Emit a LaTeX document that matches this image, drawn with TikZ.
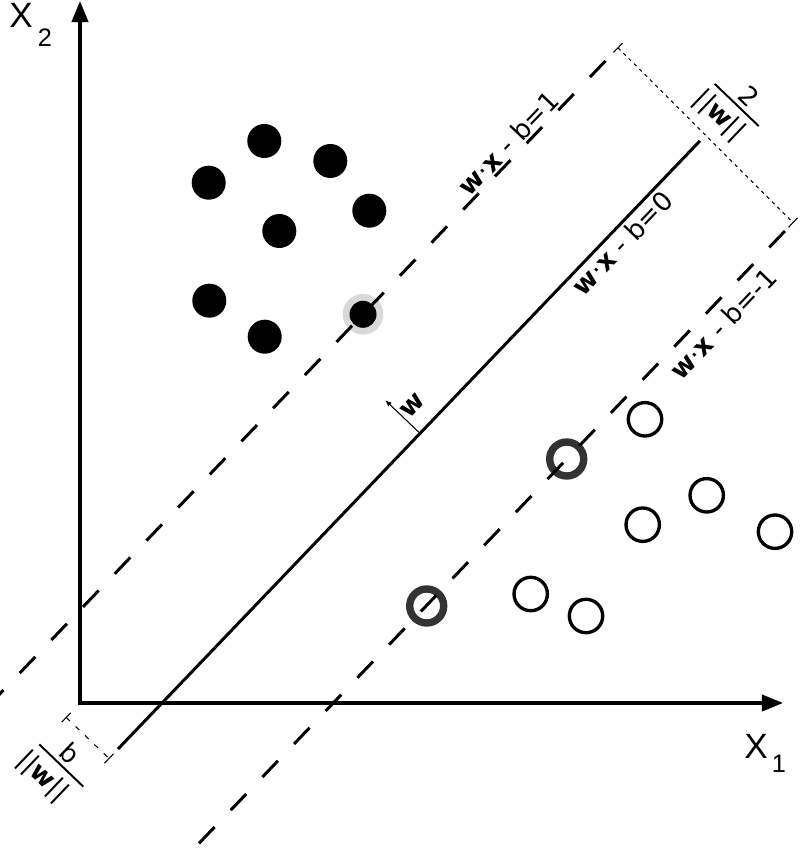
\documentclass[tikz,border=0pt]{standalone}
\usepackage{fontspec}
\setmainfont{DejaVu Sans}
\newfontfamily\axisfont{Liberation Sans}
\usetikzlibrary{arrows.meta}
\begin{document}
\begin{tikzpicture}[x=0.01cm,y=-0.01cm,
  axisline/.style={line width=1pt, line join=miter, {Triangle[length=6pt,width=4.6pt]}-{Triangle[length=6pt,width=4.6pt]}},
  hyperline/.style={line width=0.85pt},
  marginline/.style={line width=0.85pt, dash pattern=on 2.25mm off 2.33mm},
  distline/.style={line width=0.3pt, dash pattern=on 0.35mm off 0.4mm},
  distlineb/.style={line width=0.3pt, dash pattern=on 0.5mm off 0.8mm},
  tickline/.style={line width=0.3pt},
  fracbar/.style={line width=0.55pt},
  normalarrow/.style={line width=0.3pt, -{Latex[length=1.8pt,width=1.5pt]}},
  posdot/.style={circle, fill=black, minimum size=3.4mm, inner sep=0pt},
  suppos/.style={circle, fill=black, minimum size=2.7mm, inner sep=0pt},
  halo/.style={circle, fill=black!15, minimum size=4.06mm, inner sep=0pt},
  negdot/.style={circle, draw=black, line width=0.95pt, minimum size=3.34mm, inner sep=0pt},
  supneg/.style={circle, draw=black!80, line width=2.1pt, minimum size=3.4mm, inner sep=0pt},
  eqlabel/.style={font=\fontsize{7.5}{9}\selectfont, inner sep=0pt, rotate=46.26},
  fraclabel/.style={font=\fontsize{7.4}{9}\selectfont, inner sep=0pt, rotate=-43.74},
  axislabel/.style={font=\axisfont\fontsize{10}{12}\selectfont, inner sep=0pt},
  axissub/.style={font=\axisfont\fontsize{7.2}{9}\selectfont, inner sep=0pt},
]
\useasboundingbox (0,0) rectangle (800,862);

% halo behind the positive support vector
\node[halo] (h1) at (363,314.3) {};

% negative samples
\node[negdot] (n1) at (645,419.3) {};
\node[negdot] (n2) at (706.7,495.3) {};
\node[negdot] (n3) at (642.7,524.7) {};
\node[negdot] (n4) at (775,531.7) {};
\node[negdot] (n5) at (530.7,594) {};
\node[negdot] (n6) at (586,616) {};
\node[supneg] (sn1) at (566.7,459) {};
\node[supneg] (sn2) at (426.7,606) {};

% axes
\coordinate (O) at (80,703);
\coordinate (Ytip) at (80,1);
\coordinate (Xtip) at (783,703);
\draw[axisline] (Ytip) -- (O) -- (Xtip);

% hyperplanes
\coordinate (S1) at (118,749.0);
\coordinate (S2) at (700,140.8);
\coordinate (U1) at (-12,706.2);
\coordinate (U2) at (618,47.8);
\coordinate (L1) at (199,843.3);
\coordinate (L2) at (793,222.6);
\draw[hyperline] (S1) -- (S2);
\draw[marginline] (U1) -- (U2);
\draw[marginline] (L1) -- (L2);

% margin width
\coordinate (U2a) at (613.5,52.5);
\coordinate (U2b) at (622.5,43.1);
\coordinate (L2a) at (788.5,227.3);
\coordinate (L2b) at (797.5,217.9);
\draw[distline] (U2) -- (L2);
\draw[tickline] (U2a) -- (U2b);
\draw[tickline] (L2a) -- (L2b);

% offset b/||w||
\coordinate (A) at (66.2,717.45);
\coordinate (B) at (109,758.45);
\coordinate (Aa) at (61.7,722.15);
\coordinate (Ab) at (70.7,712.75);
\coordinate (Ba) at (104.5,763.15);
\coordinate (Bb) at (113.5,753.75);
\draw[distlineb] (A) -- (B);
\draw[tickline] (Aa) -- (Ab);
\draw[tickline] (Ba) -- (Bb);

% normal vector
\coordinate (W0) at (420,433.4);
\coordinate (W1) at (385.3,400.2);
\draw[normalarrow] (W0) -- (W1);
\node[eqlabel] (wl) at (413,406) {\textbf{w}};

% positive samples
\node[posdot] (p1) at (264.3,141) {};
\node[posdot] (p2) at (330.3,161) {};
\node[posdot] (p3) at (208.7,182.7) {};
\node[posdot] (p4) at (369.3,210.7) {};
\node[posdot] (p5) at (279.3,231) {};
\node[posdot] (p6) at (209.3,300.7) {};
\node[posdot] (p7) at (264.7,336.7) {};
\node[suppos] (sp1) at (363,314.3) {};

% equation labels
\node[eqlabel] (e1) at (508,143.5) {\textbf{w}·\textbf{x} - b=1};
\node[eqlabel] (e0) at (622,243) {\textbf{w}·\textbf{x} - b=0};
\node[eqlabel] (em) at (723,324) {\textbf{w}·\textbf{x} - b=-1};

% fraction 2/||w||
\coordinate (F1a) at (714.7,83.9);
\coordinate (F1b) at (758.7,126.1);
\draw[fracbar] (F1a) -- (F1b);
\node[fraclabel] (f1n) at (749,96.6) {2};
\node[fraclabel] (f1d) at (719,115.7) {||\textbf{w}||};

% fraction b/||w||
\coordinate (F2a) at (39.3,744.4);
\coordinate (F2b) at (83.3,786.6);
\draw[fracbar] (F2a) -- (F2b);
\node[fraclabel] (f2n) at (70,753) {b};
\node[fraclabel] (f2d) at (42.3,776.7) {||\textbf{w}||};

% axis labels
\node[axislabel] (x2) at (21,15.5) {X};
\node[axissub] (x2s) at (45,37.5) {2};
\node[axislabel] (x1) at (756,746) {X};
\node[axissub] (x1s) at (779,763.5) {1};
\end{tikzpicture}
\end{document}
